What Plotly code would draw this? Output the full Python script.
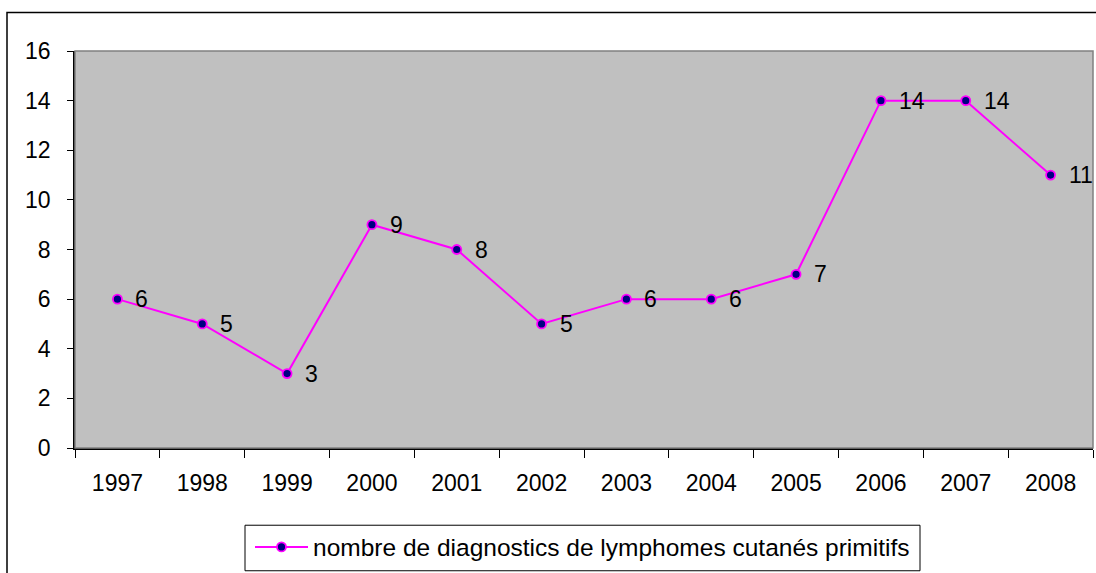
import plotly.graph_objects as go

years = ["1997", "1998", "1999", "2000", "2001", "2002", "2003", "2004", "2005", "2006", "2007", "2008"]
counts = [6, 5, 3, 9, 8, 5, 6, 6, 7, 14, 14, 11]
series_name = "nombre de diagnostics de lymphomes cutanés primitifs"

FONT = "Liberation Sans, Arial, sans-serif"
FS = 23
W, H = 1096, 573
L, R, T, B = 75, 3, 51, 121
pw = W - L - R
ph = H - T - B

def px_x(x):
    return (x - L) / pw

def px_y(y):
    return (H - B - y) / ph

fig = go.Figure()
fig.add_trace(go.Scatter(
    x=years, y=counts, mode="lines+markers", name=series_name,
    line=dict(color="#FF00FF", width=2),
    marker=dict(size=9, color="#000080", line=dict(color="#FF00FF", width=1.8)),
    cliponaxis=False,
))

for i, yv in enumerate(counts):
    fig.add_annotation(x=i, y=yv, xref="x", yref="y", text=str(yv), showarrow=False,
                       xanchor="left", yanchor="middle", xshift=16,
                       font=dict(family=FONT, size=FS, color="black"))

shapes = [
    # plot area border
    dict(type="rect", xref="paper", yref="paper", x0=0, x1=1, y0=0, y1=1,
         line=dict(color="#808080", width=1.5), layer="above"),
    # figure border
    dict(type="rect", xref="paper", yref="paper", x0=px_x(7), x1=px_x(1110),
         y0=px_y(590), y1=px_y(12), line=dict(color="black", width=1.5)),
    # legend box
    dict(type="rect", xref="paper", yref="paper", x0=px_x(245), x1=px_x(920),
         y0=px_y(576), y1=px_y(530), line=dict(color="black", width=1)),
]

fig.update_layout(
    width=W, height=H,
    margin=dict(l=L, r=R, t=T, b=B),
    paper_bgcolor="white", plot_bgcolor="#C0C0C0",
    font=dict(family=FONT, size=FS, color="black"),
    showlegend=True,
    legend=dict(orientation="h", x=px_x(250), xanchor="left", y=px_y(552), yanchor="middle",
                bgcolor="rgba(0,0,0,0)", borderwidth=0, itemwidth=53,
                font=dict(family=FONT, size=24.5)),
    shapes=shapes,
    xaxis=dict(type="category", showgrid=False, zeroline=False, tickson="boundaries",
               ticks="outside", ticklen=8, tickcolor="black", showline=True,
               linecolor="black", linewidth=1.5, ticklabelstandoff=14,
               tickfont=dict(family=FONT, size=FS), range=[-0.5, 11.5]),
    yaxis=dict(range=[0, 16], dtick=2, showgrid=False, zeroline=False,
               ticks="outside", ticklen=6, tickcolor="black", showline=True,
               linecolor="black", linewidth=1.5, ticklabelstandoff=12,
               tickfont=dict(family=FONT, size=FS)),
)

fig.write_html("out.html", config={"displayModeBar": False},
               post_script="document.body.style.margin='0';")
